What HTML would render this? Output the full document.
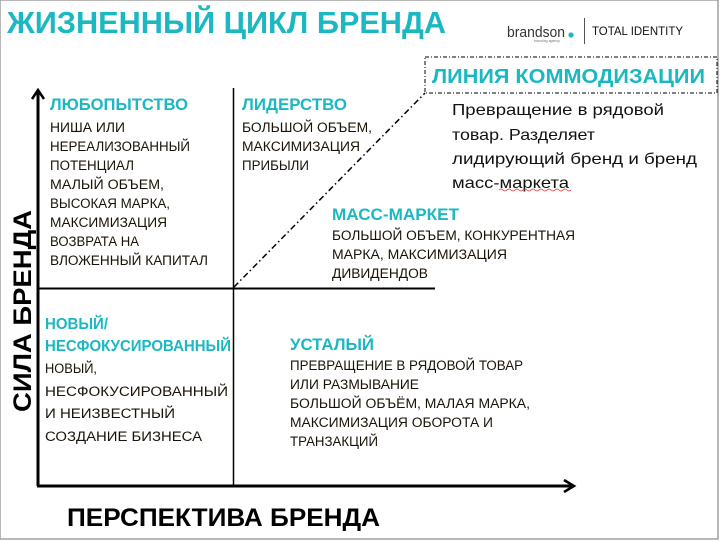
<!DOCTYPE html>
<html><head><meta charset="utf-8"><style>
html,body{margin:0;padding:0;background:#fff;}
svg{display:block;}
text{font-family:"Liberation Sans",sans-serif;}
.t{fill:#1cb8c2;font-weight:bold;}
.b{fill:#1a1206;font-size:13.5px;}
.p{fill:#111;font-size:16px;}
</style></head><body>
<svg width="721" height="541" viewBox="0 0 721 541" xmlns="http://www.w3.org/2000/svg">
<rect x="0" y="0" width="718" height="539" fill="#fff" stroke="#a0a0a0" stroke-width="1.5"/>
<text class="t" x="7" y="33" font-size="31" textLength="439" lengthAdjust="spacingAndGlyphs">ЖИЗНЕННЫЙ ЦИКЛ БРЕНДА</text>
<!-- logo -->
<text x="507" y="37" font-size="15" fill="#333" textLength="58" lengthAdjust="spacingAndGlyphs">brandson</text>
<circle cx="571" cy="35" r="2.6" fill="#1cb8c2"/>
<text x="534" y="42" font-size="3.5" fill="#777">branding agency</text>
<line x1="584.5" y1="18" x2="584.5" y2="44" stroke="#555" stroke-width="1"/>
<text x="592" y="35" font-size="12" fill="#111" textLength="91" lengthAdjust="spacingAndGlyphs">TOTAL IDENTITY</text>
<!-- axes -->
<line x1="38" y1="486" x2="38" y2="92" stroke="#000" stroke-width="3"/>
<polyline points="32,99 38,90 44,99" fill="none" stroke="#000" stroke-width="2.5"/>
<line x1="37" y1="486" x2="573" y2="486" stroke="#000" stroke-width="3"/>
<polyline points="564,480 574,486 564,492" fill="none" stroke="#000" stroke-width="2.5"/>
<line x1="233.5" y1="88" x2="233.5" y2="486" stroke="#000" stroke-width="1.5"/>
<line x1="38" y1="288.5" x2="435" y2="288.5" stroke="#000" stroke-width="2"/>
<line x1="234" y1="287" x2="425" y2="93" stroke="#000" stroke-width="1.5" stroke-dasharray="6,3,1.5,3"/>
<rect x="425" y="57" width="292" height="36" fill="none" stroke="#000" stroke-width="1" stroke-dasharray="4,2,1,2"/>
<text class="t" x="432" y="83" font-size="20" textLength="273" lengthAdjust="spacingAndGlyphs">ЛИНИЯ КОММОДИЗАЦИИ</text>
<text class="p" x="452" y="115" textLength="212" lengthAdjust="spacingAndGlyphs">Превращение в рядовой</text>
<text class="p" x="452" y="140" textLength="143" lengthAdjust="spacingAndGlyphs">товар. Разделяет</text>
<text class="p" x="452" y="164" textLength="245" lengthAdjust="spacingAndGlyphs">лидирующий бренд и бренд</text>
<text class="p" x="452" y="188" textLength="117" lengthAdjust="spacingAndGlyphs">масс-маркета</text>
<path d="M499 190 q2 -2 4 0 t4 0 t4 0 t4 0 t4 0 t4 0 t4 0 t4 0 t4 0 t4 0 t4 0 t4 0 t4 0 t4 0 t4 0 t4 0 t4 0 t4 0" fill="none" stroke="#e33" stroke-width="0.8"/>
<!-- top-left -->
<text class="t" x="50" y="110" font-size="16.5" textLength="138" lengthAdjust="spacingAndGlyphs">ЛЮБОПЫТСТВО</text>
<text class="b" x="50" y="132" textLength="75" lengthAdjust="spacingAndGlyphs">НИША ИЛИ</text>
<text class="b" x="50" y="151" textLength="140" lengthAdjust="spacingAndGlyphs">НЕРЕАЛИЗОВАННЫЙ</text>
<text class="b" x="50" y="170" textLength="84" lengthAdjust="spacingAndGlyphs">ПОТЕНЦИАЛ</text>
<text class="b" x="50" y="189" textLength="114" lengthAdjust="spacingAndGlyphs">МАЛЫЙ ОБЪЕМ,</text>
<text class="b" x="50" y="208" textLength="120" lengthAdjust="spacingAndGlyphs">ВЫСОКАЯ МАРКА,</text>
<text class="b" x="50" y="227" textLength="117" lengthAdjust="spacingAndGlyphs">МАКСИМИЗАЦИЯ</text>
<text class="b" x="50" y="246" textLength="89" lengthAdjust="spacingAndGlyphs">ВОЗВРАТА НА</text>
<text class="b" x="50" y="265" textLength="158" lengthAdjust="spacingAndGlyphs">ВЛОЖЕННЫЙ КАПИТАЛ</text>
<!-- top-right -->
<text class="t" x="242" y="110" font-size="16.5" textLength="105" lengthAdjust="spacingAndGlyphs">ЛИДЕРСТВО</text>
<text class="b" x="242" y="132" textLength="130" lengthAdjust="spacingAndGlyphs">БОЛЬШОЙ ОБЪЕМ,</text>
<text class="b" x="242" y="151" textLength="118" lengthAdjust="spacingAndGlyphs">МАКСИМИЗАЦИЯ</text>
<text class="b" x="242" y="170" textLength="67" lengthAdjust="spacingAndGlyphs">ПРИБЫЛИ</text>
<!-- mass market -->
<text class="t" x="332" y="220" font-size="16.5" textLength="127" lengthAdjust="spacingAndGlyphs">МАСС-МАРКЕТ</text>
<text class="b" x="332" y="240" textLength="243" lengthAdjust="spacingAndGlyphs">БОЛЬШОЙ ОБЪЕМ, КОНКУРЕНТНАЯ</text>
<text class="b" x="332" y="259" textLength="175" lengthAdjust="spacingAndGlyphs">МАРКА,  МАКСИМИЗАЦИЯ</text>
<text class="b" x="332" y="278" textLength="96" lengthAdjust="spacingAndGlyphs">ДИВИДЕНДОВ</text>
<!-- bottom-left -->
<text class="t" x="45" y="329" font-size="16" textLength="63" lengthAdjust="spacingAndGlyphs">НОВЫЙ/</text>
<text class="t" x="45" y="351" font-size="16" textLength="186" lengthAdjust="spacingAndGlyphs">НЕСФОКУСИРОВАННЫЙ</text>
<text class="b" x="45" y="373" font-size="15" textLength="52" lengthAdjust="spacingAndGlyphs">НОВЫЙ,</text>
<text class="b" x="45" y="396" font-size="15" textLength="183" lengthAdjust="spacingAndGlyphs">НЕСФОКУСИРОВАННЫЙ</text>
<text class="b" x="45" y="418" font-size="15" textLength="130" lengthAdjust="spacingAndGlyphs">И НЕИЗВЕСТНЫЙ</text>
<text class="b" x="45" y="441" font-size="15" textLength="157" lengthAdjust="spacingAndGlyphs">СОЗДАНИЕ БИЗНЕСА</text>
<!-- bottom-right -->
<text class="t" x="290" y="350" font-size="16.5" textLength="84" lengthAdjust="spacingAndGlyphs">УСТАЛЫЙ</text>
<text class="b" x="290" y="370" font-size="13" textLength="233" lengthAdjust="spacingAndGlyphs">ПРЕВРАЩЕНИЕ В РЯДОВОЙ ТОВАР</text>
<text class="b" x="290" y="389" font-size="13" textLength="129" lengthAdjust="spacingAndGlyphs">ИЛИ РАЗМЫВАНИЕ</text>
<text class="b" x="290" y="408" font-size="13" textLength="240" lengthAdjust="spacingAndGlyphs">БОЛЬШОЙ ОБЪЁМ, МАЛАЯ МАРКА,</text>
<text class="b" x="290" y="427" font-size="13" textLength="203" lengthAdjust="spacingAndGlyphs">МАКСИМИЗАЦИЯ ОБОРОТА И</text>
<text class="b" x="290" y="446" font-size="13" textLength="88" lengthAdjust="spacingAndGlyphs">ТРАНЗАКЦИЙ</text>
<!-- axis labels -->
<text x="67" y="526" font-size="25" font-weight="bold" fill="#000" textLength="313" lengthAdjust="spacingAndGlyphs">ПЕРСПЕКТИВА БРЕНДА</text>
<text x="0" y="0" font-size="25" font-weight="bold" fill="#000" transform="translate(31,412) rotate(-90)" textLength="202" lengthAdjust="spacingAndGlyphs">СИЛА БРЕНДА</text>
</svg>
</body></html>
